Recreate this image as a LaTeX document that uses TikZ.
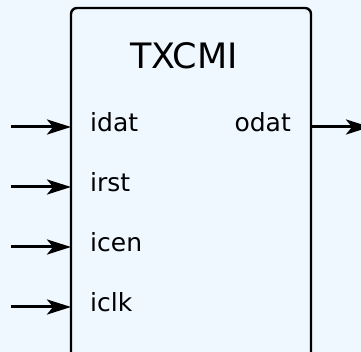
\documentclass[tikz,border=0pt]{standalone}
\usepackage{fontspec}
\setmainfont{DejaVu Sans}
\usetikzlibrary{arrows.meta}
\definecolor{bgblue}{HTML}{F0F8FF}
\begin{document}
\begin{tikzpicture}[x=1pt,y=1pt,
  blockline/.style={line width=2.4pt, rounded corners=6pt},
  portarrow/.style={line width=3pt, -{Stealth[length=24pt,width=15pt,inset=6pt]}},
  portlabel/.style={font=\fontsize{25}{27}\selectfont, inner sep=0pt},
  titlelabel/.style={font=\fontsize{35}{40}\selectfont, inner sep=0pt}]
  % canvas
  \fill[bgblue] (0,0) rectangle (361,352);
  \useasboundingbox (0,0) rectangle (361,352);
  \begin{scope}
    \clip (0,0) rectangle (361,352);
    % module body (continues below the lower edge)
    \draw[blockline] (71,-20) rectangle (311,344);
    % port anchors on the block edge
    \coordinate (pidat) at (71,225);
    \coordinate (pirst) at (71,165);
    \coordinate (picen) at (71,105);
    \coordinate (piclk) at (71,45);
    \coordinate (podat) at (311,225);
    % free ends of the port wires
    \coordinate (sidat) at (11,225);
    \coordinate (sirst) at (11,165);
    \coordinate (sicen) at (11,105);
    \coordinate (siclk) at (11,45);
    \coordinate (eodat) at (370,225);
    \draw[portarrow] (sidat) -- (pidat);
    \draw[portarrow] (sirst) -- (pirst);
    \draw[portarrow] (sicen) -- (picen);
    \draw[portarrow] (siclk) -- (piclk);
    \draw[portarrow] (podat) -- (eodat);
  \end{scope}
  \node[titlelabel, anchor=base] (title) at (184,283) {TXCMI};
  % port names
  \node[portlabel, anchor=base west] (lidat) at (90,220) {idat};
  \node[portlabel, anchor=base west] (lirst) at (90,160) {irst};
  \node[portlabel, anchor=base west] (licen) at (90,100) {icen};
  \node[portlabel, anchor=base west] (liclk) at (90,40) {iclk};
  \node[portlabel, anchor=base east] (lodat) at (291,220) {odat};
\end{tikzpicture}
\end{document}
